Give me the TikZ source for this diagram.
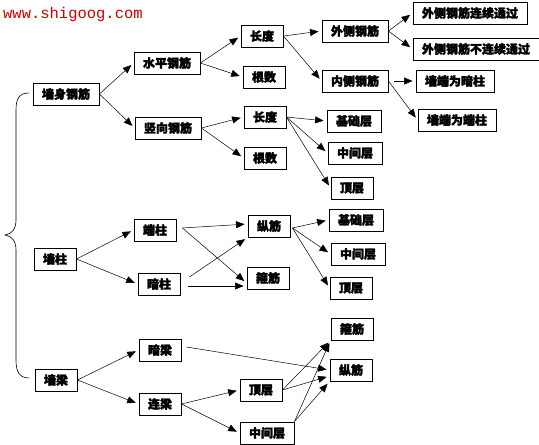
\documentclass[tikz,border=0pt]{standalone}
\usepackage{fontspec}
\newfontfamily\cjk[FakeBold=2.2]{Noto Sans CJK SC}
\newfontfamily\urlfont{Liberation Mono}
\usetikzlibrary{arrows.meta}
\begin{document}
\begin{tikzpicture}[x=1pt,y=-1pt,
  box/.style={draw=black,line width=0.9pt,fill=white,inner xsep=9pt,inner ysep=0pt,
    minimum height=22pt,font=\cjk\bfseries\fontsize{12}{12}\selectfont},
  arr/.style={-{Triangle[length=8.5pt,width=7pt]},line width=0.5pt,shorten >=3pt}]
\useasboundingbox (0,0) rectangle (539,445);
\node[anchor=base west,inner sep=0pt,text=red!80!black,font=\urlfont\fontsize{15.5}{15.5}\selectfont] (url) at (3,18) {www.shigoog.com};
\draw[line width=0.6pt] (29,93) .. controls (19,93) and (16,99) .. (16,110) -- (16,220)
  .. controls (16,229) and (12,234) .. (5,235) .. controls (12,236) and (16,241) .. (16,250)
  -- (16,360) .. controls (16,371) and (19,378) .. (29,378);
\node[box] (qsgj) at (66,94) {墙身钢筋};
\node[box] (spgj) at (167,63) {水平钢筋};
\node[box] (sxgj) at (168,128) {竖向钢筋};
\node[box] (cd1) at (262,36) {长度};
\node[box] (gs1) at (264,77) {根数};
\node[box] (wcgj) at (355,31) {外侧钢筋};
\node[box] (lxtg) at (470,13) {外侧钢筋连续通过};
\node[box] (blxtg) at (476,49) {外侧钢筋不连续通过};
\node[box] (ncgj) at (355,81) {内侧钢筋};
\node[box] (qdaz) at (455,81) {墙端为暗柱};
\node[box] (qddz) at (457,120) {墙端为端柱};
\node[box] (cd2) at (265,117) {长度};
\node[box] (gs2) at (265,158) {根数};
\node[box] (jc1) at (354,121) {基础层};
\node[box] (zj1) at (355,153) {中间层};
\node[box] (dc1) at (352,188) {顶层};
\node[box] (qz) at (55,259) {墙柱};
\node[box] (dz) at (155,230) {端柱};
\node[box] (az) at (159,284) {暗柱};
\node[box] (zjin1) at (269,226) {纵筋};
\node[box] (gj1) at (268,278) {箍筋};
\node[box] (jc2) at (356,220) {基础层};
\node[box] (zj2) at (358,254) {中间层};
\node[box] (dc2) at (351,288) {顶层};
\node[box] (ql) at (56,380) {墙梁};
\node[box] (al) at (160,350) {暗梁};
\node[box] (ll) at (160,404) {连梁};
\node[box] (dc3) at (261,390) {顶层};
\node[box] (zj3) at (267,433) {中间层};
\node[box] (gj2) at (352,329) {箍筋};
\node[box] (zjin2) at (351,370) {纵筋};
\draw[arr] (qsgj.east) -- (spgj.west);
\draw[arr] (qsgj.east) -- (sxgj.west);
\draw[arr] (spgj.east) -- (cd1.west);
\draw[arr] (spgj.east) -- (gs1.west);
\draw[arr] (cd1.east) -- (wcgj.west);
\draw[arr] (cd1.east) -- (ncgj.west);
\draw[arr] (wcgj.east) -- (lxtg.west);
\draw[arr] (wcgj.east) -- (blxtg.west);
\draw[arr] ([xshift=6pt]ncgj.east) -- (qdaz.west);
\draw[arr] (ncgj.east) -- (qddz.west);
\draw[arr] (sxgj.east) -- (cd2.west);
\draw[arr] (sxgj.east) -- (gs2.west);
\draw[arr] (cd2.east) -- (jc1.west);
\draw[arr] (cd2.east) -- (zj1.west);
\draw[arr] (cd2.east) -- (dc1.west);
\draw[arr] (qz.east) -- (dz.west);
\draw[arr] (qz.east) -- (az.west);
\draw[arr] ([xshift=6pt,yshift=2pt]dz.east) -- ([yshift=2pt]zjin1.west);
\draw[arr] ([xshift=6pt,yshift=2pt]dz.east) -- ([yshift=-5pt]gj1.west);
\draw[arr] ([xshift=9pt,yshift=7pt]az.east) -- (zjin1.south west);
\draw[arr] ([xshift=8pt,yshift=-2pt]az.east) -- ([yshift=-8pt]gj1.west);
\draw[arr] ([xshift=2pt,yshift=-2pt]zjin1.east) -- (jc2.west);
\draw[arr] ([xshift=2pt,yshift=-2pt]zjin1.east) -- (zj2.west);
\draw[arr] ([xshift=2pt,yshift=-2pt]zjin1.east) -- (dc2.west);
\draw[arr] (ql.east) -- (al.west);
\draw[arr] (ql.east) -- (ll.west);
\draw[arr] ([xshift=5pt,yshift=3pt]al.east) -- (zjin2.west);
\draw[arr] (ll.east) -- (dc3.west);
\draw[arr] (ll.east) -- (zj3.west);
\draw[arr] (dc3.east) -- (gj2.south west);
\draw[arr] (dc3.east) -- ([yshift=-6pt]zjin2.west);
\draw[arr] (zj3.north east) -- (gj2.south west);
\draw[arr] (zj3.north east) -- (zjin2.south west);
\end{tikzpicture}
\end{document}
